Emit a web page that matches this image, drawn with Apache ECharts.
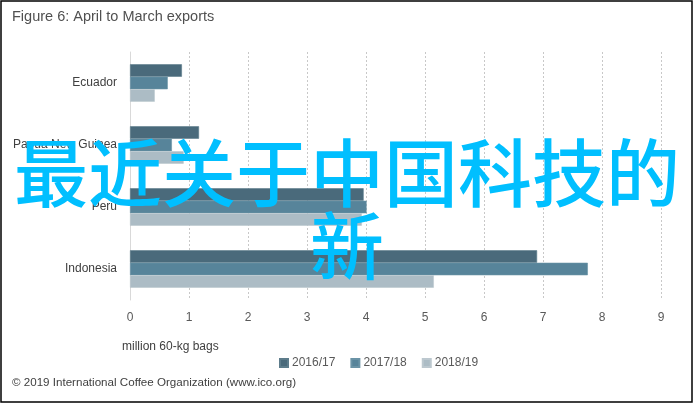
<!DOCTYPE html>
<html>
<head>
<meta charset="utf-8">
<script src="https://cdn.jsdelivr.net/npm/echarts@6/dist/echarts.min.js"></script>
<style>html,body{margin:0;padding:0;background:#fff}#c{width:695px;height:405px}</style>
</head>
<body>
<div id="c"></div>
<script>
const categories = ['Ecuador', 'Papua New Guinea', 'Peru', 'Indonesia'];
const seriesNames = ['2016/17', '2017/18', '2018/19'];
const s2016 = [0.88, 1.17, 3.96, 6.9];
const s2017 = [0.64, 0.71, 4.01, 7.76];
const s2018 = [0.42, 0.91, 3.93, 5.15];
const xTicks = [0, 1, 2, 3, 4, 5, 6, 7, 8, 9];
const colors = ['#4a6a7b', '#57849a', '#acbcc5'];
const borders = ['#5d7c8b', '#6a93a6', '#bcc8cf'];

const font = 'Liberation Sans';
const chart = echarts.init(document.getElementById('c'), null, {renderer: 'canvas'});
const data = [s2016, s2017, s2018];
chart.setOption({
  animation: false,
  color: colors,
  title: {
    text: 'Figure 6: April to March exports',
    left: 7, top: 4,
    textStyle: {fontFamily: font, fontSize: 14.5, fontWeight: 'normal', color: '#505050'}
  },
  grid: {left: 130, right: 34, top: 52, bottom: 105},
  legend: {
    left: 274, top: 352,
    itemWidth: 8, itemHeight: 8, itemGap: 15,
    icon: 'rect',
    data: seriesNames,
    textStyle: {fontFamily: font, fontSize: 12, color: '#595959', padding: [0, 0, 0, -1]}
  },
  xAxis: {
    type: 'value', min: xTicks[0], max: xTicks[xTicks.length - 1], interval: 1,
    axisLine: {show: false}, axisTick: {show: false},
    axisLabel: {fontFamily: font, fontSize: 12, color: '#595959', margin: 12},
    splitLine: {show: true, lineStyle: {type: [2, 2], color: '#c8c8c8', width: 1}}
  },
  yAxis: {
    type: 'category', inverse: true, data: categories,
    axisLine: {show: true, lineStyle: {color: '#d9d9d9', width: 1}},
    axisTick: {show: false},
    axisLabel: {fontFamily: font, fontSize: 12, color: '#404040', margin: 13},
    splitLine: {show: false}
  },
  series: seriesNames.map((n, i) => ({
    name: n, type: 'bar', data: data[i],
    barWidth: 12.5, barGap: '0%',
    itemStyle: {color: colors[i], borderColor: borders[i], borderWidth: 0.6}
  })),
  graphic: [
    {type: 'text', left: 122, top: 341, silent: true,
     style: {text: 'million 60-kg bags', font: '12px "Liberation Sans"', fill: '#404040'}},
    {type: 'text', left: 12, top: 377, silent: true,
     style: {text: '© 2019 International Coffee Organization (www.ico.org)', font: '11.6px "Liberation Sans"', fill: '#404040'}},
    {type: 'rect', shape: {x: 1, y: 1, width: 691, height: 401}, silent: true,
     style: {fill: 'none', stroke: '#000', lineWidth: 1.5}},
    {type: 'text', x: 347, y: 136, silent: true, z: 100,
     style: {text: '最近关于中国科技的\n新', font: '500 74px "Noto Sans CJK SC"', fill: '#00bfff',
             align: 'center', verticalAlign: 'top', lineHeight: 73}}
  ]
});
</script>
</body>
</html>
